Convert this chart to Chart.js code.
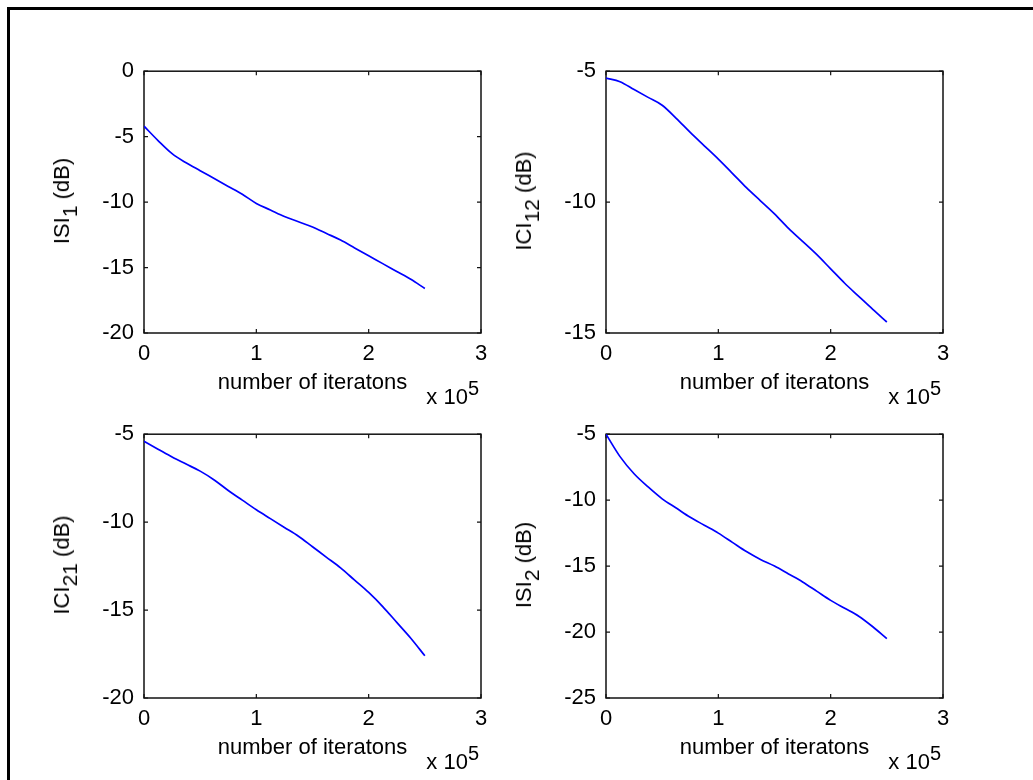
<!DOCTYPE html>
<html>
<head>
<meta charset="utf-8">
<script src="https://cdn.jsdelivr.net/npm/chart.js@4.4.0/dist/chart.umd.min.js"></script>
<style>
  html, body { margin: 0; padding: 0; background: #fff; }
  body { width: 1033px; height: 780px; position: relative; overflow: hidden;
         font-family: 'Liberation Sans', Arial, sans-serif; color: #000; }
  #frame { position: absolute; left: 7px; top: 7px; width: 1100px; height: 900px;
           border-left: 3px solid #000; border-top: 3px solid #000; }
  canvas { position: absolute; }
  .ytitle { position: absolute; font-size: 22px; line-height: 1; white-space: nowrap;
            transform: translate(-50%, -50%) rotate(-90deg); }
  .ytitle sub { font-size: 21px; vertical-align: -0.4em; line-height: 0; }
  .expo { position: absolute; font-size: 22px; line-height: 22px; white-space: nowrap; text-align: right; }
  .expo sup { font-size: 20px; vertical-align: 0.45em; line-height: 0; }
</style>
</head>
<body>
<div id="frame"></div>

<script>
// Iteration count, in units of 10^5
const iterations = [0, 0.125, 0.25, 0.375, 0.5, 0.625, 0.75, 0.875, 1.0, 1.125, 1.25,
                    1.375, 1.5, 1.625, 1.75, 1.875, 2.0, 2.125, 2.25, 2.375, 2.5];

// Interference levels in dB
const isi1  = [-4.2, -5.3, -6.3, -7.0, -7.6, -8.2, -8.8, -9.4, -10.1, -10.6, -11.1,
               -11.5, -11.9, -12.4, -12.9, -13.5, -14.1, -14.7, -15.3, -15.9, -16.6];
const ici12 = [-5.26, -5.4, -5.7, -6.0, -6.3, -6.8, -7.34, -7.85, -8.36, -8.9, -9.45,
               -9.95, -10.45, -11.0, -11.5, -12.0, -12.55, -13.1, -13.6, -14.1, -14.58];
const ici21 = [-5.4, -5.85, -6.3, -6.7, -7.1, -7.6, -8.2, -8.75, -9.3, -9.8, -10.3,
               -10.8, -11.4, -12.0, -12.6, -13.3, -14.0, -14.8, -15.7, -16.6, -17.6];
const isi2  = [-5.0, -6.7, -8.0, -9.0, -9.9, -10.6, -11.3, -11.9, -12.5, -13.2, -13.9,
               -14.5, -15.0, -15.6, -16.2, -16.9, -17.6, -18.2, -18.8, -19.6, -20.5];

// Axis ranges
const xRange     = [0, 3];
const isi1Range  = [-20, 0];
const ici12Range = [-15, -5];
const ici21Range = [-20, -5];
const isi2Range  = [-25, -5];
const yStep = 5;
const xStep = 1;

const xTitle = 'number of iteratons';

Chart.defaults.font.family = "'Liberation Sans', Arial, sans-serif";
Chart.defaults.color = '#000';

// Box around the plot area with short inward ticks on all four sides
const boxedAxes = {
  id: 'boxedAxes',
  beforeDatasetsDraw(chart) {
    const { ctx, chartArea: a, scales: { x, y } } = chart;
    const len = 4;
    ctx.save();
    ctx.strokeStyle = '#111';
    ctx.lineWidth = 1.5;
    ctx.strokeRect(a.left, a.top, a.right - a.left, a.bottom - a.top);
    ctx.lineWidth = 1.2;
    ctx.beginPath();
    x.ticks.forEach(t => {
      const px = x.getPixelForValue(t.value);
      ctx.moveTo(px, a.bottom); ctx.lineTo(px, a.bottom - len);
      ctx.moveTo(px, a.top);    ctx.lineTo(px, a.top + len);
    });
    y.ticks.forEach(t => {
      const py = y.getPixelForValue(t.value);
      ctx.moveTo(a.left, py);  ctx.lineTo(a.left + len, py);
      ctx.moveTo(a.right, py); ctx.lineTo(a.right - len, py);
    });
    ctx.stroke();
    ctx.restore();
  }
};

const Y_AXIS_W = 94, PAD_TOP = 20, PAD_RIGHT = 24, X_AXIS_H = 63;

function addPanel(area, values, yRange, yTitleHtml) {
  const cv = document.createElement('canvas');
  const w = Y_AXIS_W + area.w + PAD_RIGHT;
  const h = PAD_TOP + area.h + X_AXIS_H;
  cv.width = w; cv.height = h;
  cv.style.left = (area.left - Y_AXIS_W) + 'px';
  cv.style.top = (area.top - PAD_TOP) + 'px';
  cv.style.width = w + 'px'; cv.style.height = h + 'px';
  document.body.appendChild(cv);

  new Chart(cv.getContext('2d'), {
    type: 'line',
    data: {
      datasets: [{
        data: iterations.map((it, i) => ({ x: it, y: values[i] })),
        borderColor: '#0000ff',
        borderWidth: 1.7,
        pointRadius: 0,
        cubicInterpolationMode: 'monotone',
        fill: false
      }]
    },
    options: {
      responsive: false,
      animation: false,
      devicePixelRatio: 1,
      layout: { padding: { top: PAD_TOP, right: PAD_RIGHT, left: 0, bottom: 0 } },
      plugins: { legend: { display: false }, tooltip: { enabled: false } },
      scales: {
        x: {
          type: 'linear', min: xRange[0], max: xRange[1],
          ticks: { stepSize: xStep, padding: 8, font: { size: 22 }, color: '#000',
                   maxRotation: 0, callback: v => String(v) },
          grid: { display: false, drawTicks: false },
          border: { display: false },
          title: { display: true, text: xTitle, color: '#000', font: { size: 22 }, padding: 0 },
          afterFit(s) { s.height = X_AXIS_H; }
        },
        y: {
          type: 'linear', min: yRange[0], max: yRange[1],
          ticks: { stepSize: yStep, padding: 10, font: { size: 22 }, color: '#000',
                   callback: v => String(v) },
          grid: { display: false, drawTicks: false },
          border: { display: false },
          afterFit(s) { s.width = Y_AXIS_W; }
        }
      }
    },
    plugins: [boxedAxes]
  });

  // rotated y-axis label with subscript
  const yt = document.createElement('div');
  yt.className = 'ytitle';
  yt.innerHTML = yTitleHtml;
  yt.style.left = (area.left - 82) + 'px';
  yt.style.top = (area.top + area.h / 2) + 'px';
  document.body.appendChild(yt);

  // x-axis exponent label
  const ex = document.createElement('div');
  ex.className = 'expo';
  ex.innerHTML = 'x 10<sup>5</sup>';
  ex.style.right = (1033 - (area.left + area.w - 2)) + 'px';
  ex.style.top = (area.top + area.h + 53) + 'px';
  document.body.appendChild(ex);
}

addPanel({ left: 144, top: 68,  w: 337, h: 265 }, isi1,  isi1Range,  'ISI<sub>1</sub> (dB)');
addPanel({ left: 606, top: 68,  w: 337, h: 265 }, ici12, ici12Range, 'ICI<sub>12</sub> (dB)');
addPanel({ left: 144, top: 431, w: 337, h: 267 }, ici21, ici21Range, 'ICI<sub>21</sub> (dB)');
addPanel({ left: 606, top: 431, w: 337, h: 267 }, isi2,  isi2Range,  'ISI<sub>2</sub> (dB)');
</script>
</body>
</html>
